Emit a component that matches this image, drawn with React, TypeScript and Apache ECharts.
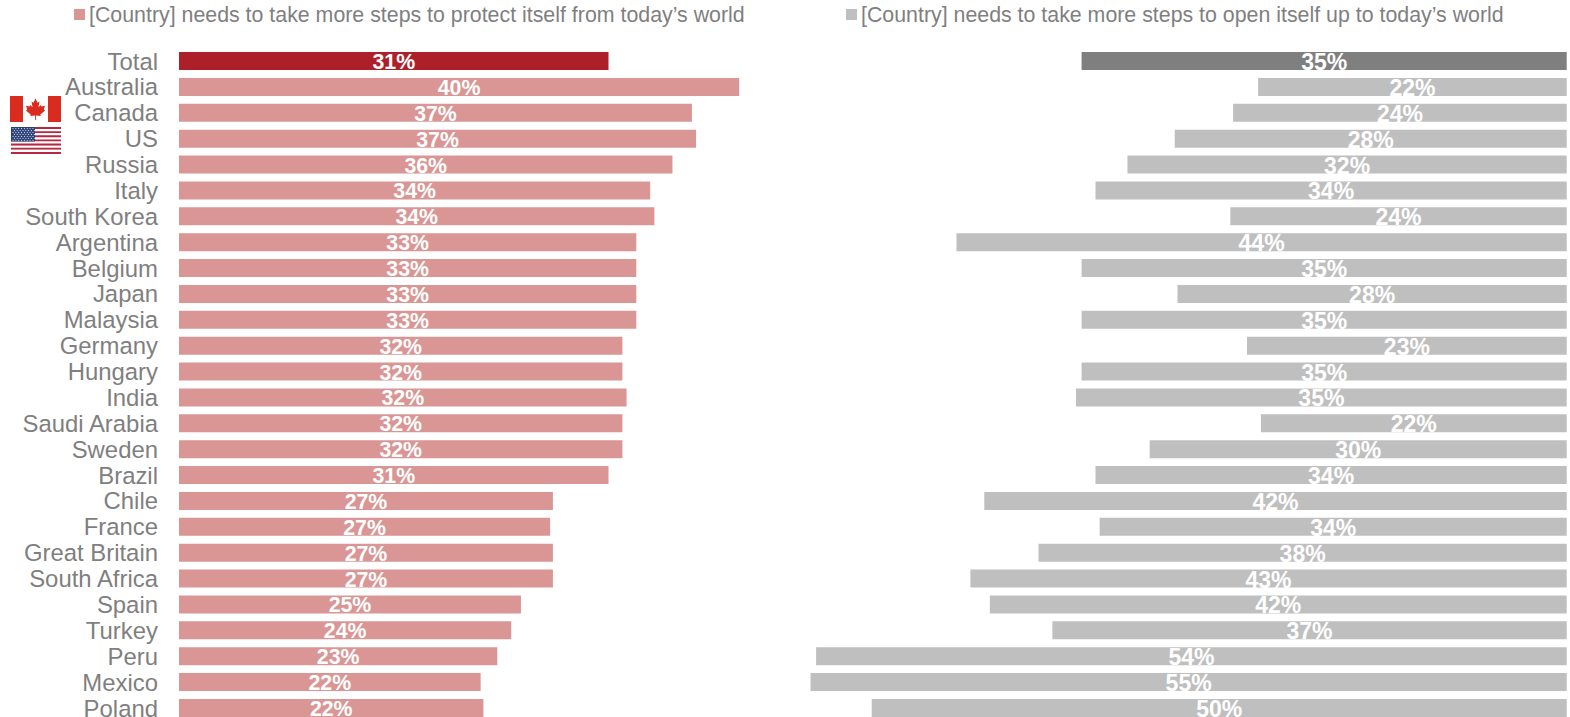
import React, { useEffect, useRef } from "react";
import * as echarts from "echarts";

const countries = ["Total","Australia","Canada","US","Russia","Italy","South Korea","Argentina","Belgium","Japan","Malaysia","Germany","Hungary","India","Saudi Arabia","Sweden","Brazil","Chile","France","Great Britain","South Africa","Spain","Turkey","Peru","Mexico","Poland"];
const protectValues = [30.9,40.3,36.9,37.2,35.5,33.9,34.2,32.9,32.9,32.9,32.9,31.9,31.9,32.2,31.9,31.9,30.9,26.9,26.7,26.9,26.9,24.6,23.9,22.9,21.7,21.9];
const protectLabels = [31,40,37,37,36,34,34,33,33,33,33,32,32,32,32,32,31,27,27,27,27,25,24,23,22,22];
const openValues = [34.9,22.2,24,28.2,31.6,33.9,24.2,43.9,34.9,28,34.9,23,34.9,35.3,22,30,33.9,41.9,33.6,38,42.9,41.5,37,54,54.4,50];
const openLabels = [35,22,24,28,32,34,24,44,35,28,35,23,35,35,22,30,34,42,34,38,43,42,37,54,55,50];
const protectName = "[Country] needs to take more steps to protect itself from today’s world";
const openName = "[Country] needs to take more steps to open itself up to today’s world";

const FONT = "Liberation Sans";
const TEXT = "#7f7f7f";
const PX_PER_PCT = 13.9;
const ROW = 25.88;
const TOP = 61 - ROW / 2;
const RIGHT_END = 1566.7;

function leafPoints(cx: number, cy: number, sx: number, sy: number) {
  const half = [[0,-10],[2,-6.2],[3.8,-7.2],[2.8,-2],[5,-4.2],[5.7,-2.8],[9,-3.4],[7.9,0],[9.2,0.8],[4.6,4.6],[5,6],[0.4,5.4],[0.4,9.5]];
  const mirrored = half.slice(1).reverse().map(([x, y]) => [-x, y]);
  return [...half, ...mirrored].map(([x, y]) => [cx + x * sx, cy + y * sy]);
}

function flags() {
  const out: any[] = [];
  const red = "#d92b1e";
  out.push({ type: "rect", shape: { x: 10, y: 96, width: 13, height: 26 }, style: { fill: red } });
  out.push({ type: "rect", shape: { x: 48, y: 96, width: 13, height: 26 }, style: { fill: red } });
  out.push({ type: "polygon", shape: { points: leafPoints(35.5, 109.5, 1.05, 1.1) }, style: { fill: red } });
  const ux = 11, uy = 127, uw = 50, uh = 27;
  const sh = uh / 13;
  for (let i = 0; i < 13; i++) {
    out.push({ type: "rect", shape: { x: ux, y: uy + i * sh, width: uw, height: sh }, style: { fill: i % 2 === 0 ? "#b5283f" : "#ffffff" } });
  }
  out.push({ type: "rect", shape: { x: ux, y: uy, width: 24, height: sh * 7 }, style: { fill: "#2a3f75" } });
  for (let r = 0; r < 7; r++) {
    for (let c = 0; c < 8; c++) {
      out.push({ type: "circle", shape: { cx: ux + 2 + c * 2.85 + (r % 2) * 1.4, cy: uy + 1.6 + r * 1.95, r: 0.55 }, style: { fill: "#dfe3ee" } });
    }
  }
  return out;
}

export default function App() {
  const ref = useRef<HTMLDivElement>(null);
  useEffect(() => {
    document.body.style.margin = "0";
    const chart = echarts.init(ref.current!, undefined, { renderer: "svg" });
    const label = (texts: number[], dy: number, size: number) => ({
      show: true,
      position: "inside" as const,
      offset: [0, dy],
      color: "#ffffff",
      fontFamily: FONT,
      fontWeight: "bold" as const,
      fontSize: size,
      formatter: (p: any) => `${texts[p.dataIndex]}%`,
    });
    const legendText = { color: TEXT, fontFamily: FONT, fontSize: 21.35, padding: [0, 0, 0, -1] };
    chart.setOption({
      animation: false,
      backgroundColor: "#ffffff",
      textStyle: { fontFamily: FONT },
      legend: [
        { data: [protectName], left: 74, top: 4, icon: "rect", itemWidth: 11, itemHeight: 11, itemGap: 4, padding: 0, textStyle: legendText, selectedMode: false },
        { data: [openName], left: 846, top: 4, icon: "rect", itemWidth: 11, itemHeight: 11, itemGap: 4, padding: 0, textStyle: legendText, selectedMode: false },
      ],
      grid: [
        { left: 179, top: TOP, width: PX_PER_PCT * 45, height: ROW * countries.length },
        { left: RIGHT_END - PX_PER_PCT * 60, top: TOP, width: PX_PER_PCT * 60, height: ROW * countries.length },
      ],
      xAxis: [
        { gridIndex: 0, type: "value", min: 0, max: 45, show: false },
        { gridIndex: 1, type: "value", min: 0, max: 60, inverse: true, show: false },
      ],
      yAxis: [
        {
          gridIndex: 0, type: "category", inverse: true, data: countries,
          axisLine: { show: false }, axisTick: { show: false },
          axisLabel: { color: TEXT, fontFamily: FONT, fontSize: 23.9, margin: 21, interval: 0 },
        },
        { gridIndex: 1, type: "category", inverse: true, data: countries, show: false },
      ],
      series: [
        {
          name: protectName, type: "bar", xAxisIndex: 0, yAxisIndex: 0, barWidth: 18,
          itemStyle: { color: "#d99694" },
          data: protectValues.map((v, i) => (i === 0 ? { value: v, itemStyle: { color: "#ae2029" } } : v)),
          label: label(protectLabels, 1, 21.3),
        },
        {
          name: openName, type: "bar", xAxisIndex: 1, yAxisIndex: 1, barWidth: 18,
          itemStyle: { color: "#bfbfbf" },
          data: openValues.map((v, i) => (i === 0 ? { value: v, itemStyle: { color: "#7f7f7f" } } : v)),
          label: label(openLabels, 1, 23),
        },
      ],
      graphic: { elements: flags() },
    });
    return () => chart.dispose();
  }, []);
  return (
    <div style={{ width: 1570, height: 717, overflow: "hidden" }}>
      <div ref={ref} style={{ width: 1570, height: 760 }} />
    </div>
  );
}
